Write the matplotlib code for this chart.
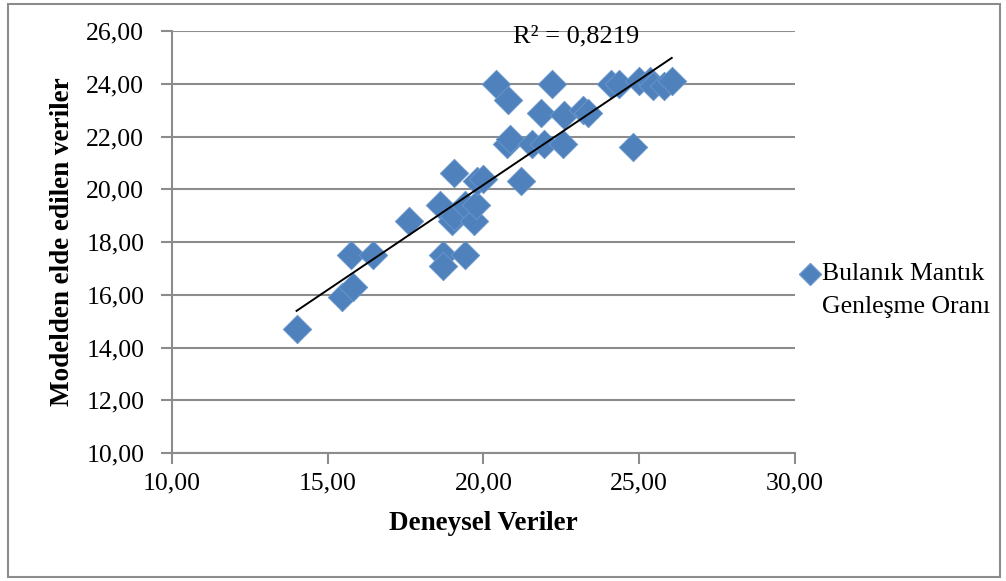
import matplotlib
matplotlib.use("Agg")
import matplotlib.pyplot as plt
import numpy as np
from matplotlib.patches import Rectangle
from matplotlib.lines import Line2D

deneysel = [14.0, 15.45, 15.8, 15.75, 16.45, 17.6, 18.6, 18.7, 18.7, 19.0,
            19.05, 19.05, 19.4, 19.4, 19.7, 19.75, 19.8, 20.0, 20.4, 20.8,
            20.75, 20.85, 21.2, 21.55, 21.85, 21.95, 22.2, 22.55, 22.6, 23.2,
            23.35, 24.1, 24.35, 24.8, 25.0, 25.35, 25.45, 25.8, 26.05]
model = [14.7, 15.9, 16.3, 17.5, 17.5, 18.8, 19.4, 17.5, 17.1, 18.8,
         19.0, 20.6, 17.5, 19.4, 18.8, 19.4, 20.3, 20.4, 24.0, 23.4,
         21.7, 21.9, 20.3, 21.7, 22.9, 21.7, 24.0, 21.7, 22.8, 23.0,
         22.9, 24.0, 24.0, 21.6, 24.1, 24.1, 23.9, 23.9, 24.1]
xticks = [10, 15, 20, 25, 30]
yticks = [10, 12, 14, 16, 18, 20, 22, 24, 26]
r2_label = "R² = 0,8219"
series_lines = ["Bulanık Mantık", "Genleşme Oranı"]

plt.rcParams['font.family'] = ['Liberation Serif', 'DejaVu Serif']

fig = plt.figure(figsize=(10.06, 5.81), dpi=100)
ax = fig.add_axes([0.171, 0.2203, 0.619, 0.7263])

blue = '#4F81BD'
ax.scatter(deneysel, model, marker='D', s=210, color=blue, edgecolor='#6C97CC',
           linewidth=0.6, zorder=3)

coef = np.polyfit(deneysel, model, 1)
xs = np.array([min(deneysel), max(deneysel)])
ax.plot(xs, np.polyval(coef, xs), color='black', lw=1.4, zorder=4)

ax.set_xlim(10, 30)
ax.set_ylim(10, 26)
ax.set_xticks(xticks)
ax.set_yticks(yticks)
ax.set_xticklabels([f"{v:.2f}".replace('.', ',') for v in xticks])
ax.set_yticklabels([f"{v:.2f}".replace('.', ',') for v in yticks])
ax.tick_params(axis='both', labelsize=18.5, direction='out', length=8,
               width=1.5, color='#8C8C8C')
ax.tick_params(axis='x', pad=6)
ax.tick_params(axis='y', pad=12)
ax.grid(axis='y', color='#8C8C8C', lw=1.5)
ax.set_axisbelow(True)
for s in ['top', 'right']:
    ax.spines[s].set_visible(False)
for s in ['left', 'bottom']:
    ax.spines[s].set_color('#8C8C8C')
    ax.spines[s].set_linewidth(1.5)

ax.set_xlabel("Deneysel Veriler", fontsize=19.5, fontweight='bold', labelpad=12)
ax.set_ylabel("Modelden elde edilen veriler", fontsize=19.5, fontweight='bold', labelpad=8)

ax.text(22.97, 25.8, r2_label, fontsize=19, ha='center', va='center', zorder=5)

# legend (drawn manually to match layout)
fig.add_artist(Line2D([810 / 1006], [1 - 274 / 581], marker='D', markersize=11,
                      color=blue, markeredgecolor='#6C97CC', lw=0,
                      transform=fig.transFigure))
fig.text(822 / 1006, 1 - 274 / 581, series_lines[0], fontsize=18.5,
         ha='left', va='center')
fig.text(822 / 1006, 1 - 307 / 581, series_lines[1], fontsize=18.5,
         ha='left', va='center')

fig.patches.append(Rectangle((0.008, 0.007), 0.986, 0.986, transform=fig.transFigure,
                             fill=False, edgecolor='#8C8C8C', lw=1.5))

fig.savefig("out.png", dpi=100)
